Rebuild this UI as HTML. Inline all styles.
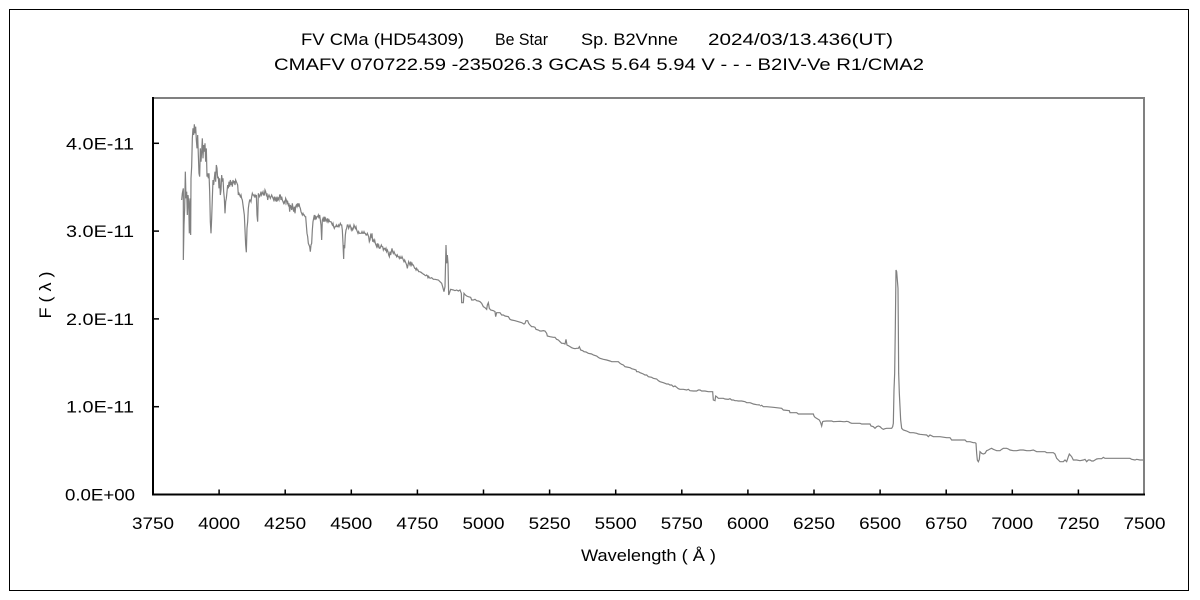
<!DOCTYPE html>
<html>
<head>
<meta charset="utf-8">
<style>
html,body{margin:0;padding:0;background:#fff;}
svg{display:block;}
text{font-family:"Liberation Sans","Noto Sans CJK JP",sans-serif;fill:#000;}
</style>
</head>
<body>
<svg width="1200" height="600" viewBox="0 0 1200 600" xmlns="http://www.w3.org/2000/svg">
<rect x="0" y="0" width="1200" height="600" fill="#fff"/>
<!-- outer border -->
<rect x="9.5" y="9.5" width="1179" height="581" fill="none" stroke="#000" stroke-width="1"/>

<!-- titles -->
<g font-size="17">
<text x="301" y="45" textLength="163" lengthAdjust="spacingAndGlyphs">FV CMa (HD54309)</text>
<text x="495" y="45" textLength="53" lengthAdjust="spacingAndGlyphs">Be Star</text>
<text x="581" y="45" textLength="97" lengthAdjust="spacingAndGlyphs">Sp. B2Vnne</text>
<text x="708" y="45" textLength="185" lengthAdjust="spacingAndGlyphs">2024/03/13.436(UT)</text>
<text x="274" y="70" textLength="650" lengthAdjust="spacingAndGlyphs">CMAFV 070722.59 -235026.3 GCAS 5.64 5.94 V - - - B2IV-Ve R1/CMA2</text>
</g>

<!-- plot frame -->
<line x1="153" y1="98" x2="1144" y2="98" stroke="#808080" stroke-width="2"/>
<line x1="1144" y1="97" x2="1144" y2="495" stroke="#808080" stroke-width="2"/>
<line x1="153" y1="97" x2="153" y2="495.5" stroke="#000" stroke-width="2"/>
<line x1="152" y1="494.5" x2="1145" y2="494.5" stroke="#000" stroke-width="2"/>

<!-- y ticks -->
<g stroke="#000" stroke-width="1.5">
<line x1="153" y1="406.7" x2="159" y2="406.7"/>
<line x1="153" y1="318.9" x2="159" y2="318.9"/>
<line x1="153" y1="231.1" x2="159" y2="231.1"/>
<line x1="153" y1="143.3" x2="159" y2="143.3"/>
</g>
<!-- x ticks -->
<g stroke="#000" stroke-width="1.5">
<line x1="219.1" y1="494" x2="219.1" y2="489.5"/>
<line x1="285.2" y1="494" x2="285.2" y2="489.5"/>
<line x1="351.3" y1="494" x2="351.3" y2="489.5"/>
<line x1="417.4" y1="494" x2="417.4" y2="489.5"/>
<line x1="483.5" y1="494" x2="483.5" y2="489.5"/>
<line x1="549.6" y1="494" x2="549.6" y2="489.5"/>
<line x1="615.7" y1="494" x2="615.7" y2="489.5"/>
<line x1="681.8" y1="494" x2="681.8" y2="489.5"/>
<line x1="747.9" y1="494" x2="747.9" y2="489.5"/>
<line x1="814" y1="494" x2="814" y2="489.5"/>
<line x1="880.1" y1="494" x2="880.1" y2="489.5"/>
<line x1="946.2" y1="494" x2="946.2" y2="489.5"/>
<line x1="1012.3" y1="494" x2="1012.3" y2="489.5"/>
<line x1="1078.4" y1="494" x2="1078.4" y2="489.5"/>
</g>

<!-- y labels -->
<g font-size="17" text-anchor="end">
<text x="135" y="500.5" textLength="70" lengthAdjust="spacingAndGlyphs">0.0E+00</text>
<text x="134" y="412.7" textLength="68" lengthAdjust="spacingAndGlyphs">1.0E-11</text>
<text x="134" y="324.9" textLength="68" lengthAdjust="spacingAndGlyphs">2.0E-11</text>
<text x="134" y="237.1" textLength="68" lengthAdjust="spacingAndGlyphs">3.0E-11</text>
<text x="134" y="149.3" textLength="68" lengthAdjust="spacingAndGlyphs">4.0E-11</text>
</g>

<!-- x labels -->
<g font-size="17" text-anchor="middle">
<text x="153" y="529" textLength="42" lengthAdjust="spacingAndGlyphs">3750</text>
<text x="219.1" y="529" textLength="42" lengthAdjust="spacingAndGlyphs">4000</text>
<text x="285.2" y="529" textLength="42" lengthAdjust="spacingAndGlyphs">4250</text>
<text x="351.3" y="529" textLength="42" lengthAdjust="spacingAndGlyphs">4500</text>
<text x="417.4" y="529" textLength="42" lengthAdjust="spacingAndGlyphs">4750</text>
<text x="483.5" y="529" textLength="42" lengthAdjust="spacingAndGlyphs">5000</text>
<text x="549.6" y="529" textLength="42" lengthAdjust="spacingAndGlyphs">5250</text>
<text x="615.7" y="529" textLength="42" lengthAdjust="spacingAndGlyphs">5500</text>
<text x="681.8" y="529" textLength="42" lengthAdjust="spacingAndGlyphs">5750</text>
<text x="747.9" y="529" textLength="42" lengthAdjust="spacingAndGlyphs">6000</text>
<text x="814" y="529" textLength="42" lengthAdjust="spacingAndGlyphs">6250</text>
<text x="880.1" y="529" textLength="42" lengthAdjust="spacingAndGlyphs">6500</text>
<text x="946.2" y="529" textLength="42" lengthAdjust="spacingAndGlyphs">6750</text>
<text x="1012.3" y="529" textLength="42" lengthAdjust="spacingAndGlyphs">7000</text>
<text x="1078.4" y="529" textLength="42" lengthAdjust="spacingAndGlyphs">7250</text>
<text x="1144.5" y="529" textLength="42" lengthAdjust="spacingAndGlyphs">7500</text>
</g>

<!-- axis titles -->
<text x="581" y="561" font-size="17" textLength="135" lengthAdjust="spacingAndGlyphs">Wavelength ( Å )</text>
<text transform="translate(51,295) rotate(-90)" x="0" y="0" font-size="17" text-anchor="middle" textLength="47" lengthAdjust="spacingAndGlyphs">F ( λ )</text>

<!-- spectrum -->
<g fill="none" stroke="#808080" stroke-width="1.2" stroke-linejoin="miter">
<polyline vector-effect="non-scaling-stroke" transform="translate(170,115) scale(0.33333)" points="35,255 37,235 40,220 40,435 42,330 44,280 46,170 48,250 50,230 52,300 54,240 56,260 58,355 60,250 62,360 63,190 65,155 67,70 69,40 71,60 73,28 75,55 77,35 79,75 81,100 83,60 85,120 87,175 89,185 91,100 93,140 95,110 97,70 99,130 101,90 103,110 105,85 107,140 109,100 111,185 113,175 115,190 117,175 119,230 121,320 123,355 125,310 127,250 129,195 131,210 133,190 135,170 137,200 139,150 141,160 143,190 145,185 147,220 149,190 151,240 153,225 155,180 157,200 159,190 161,230 163,250 165,295 167,260 169,250 171,230 173,210 175,220 177,200 179,215 181,195 183,210 185,200 187,215 189,195 191,205 193,198 195,210 197,195 199,200 201,205 203,210 205,240 207,235 209,240 211,245 213,240 215,250 217,255 219,270 221,285 223,300 225,345 227,390 229,412 231,340 233,320 235,280 237,265 239,255 241,255 243,260 245,245 247,235 249,240 251,240 253,245 255,240 257,245 259,240 261,300 263,320 265,235 267,240 269,245 271,240 273,230 275,240 277,235 279,230 281,240 283,240 285,225 287,230 289,240 291,235 293,255 295,245 297,240 299,245 301,250 303,245 305,240 307,245 309,250 311,255 313,245 315,255 317,250 319,260 321,245 323,255 325,250 327,255 329,240 331,240 333,255 335,245 337,255 339,260 341,265 343,260 345,265 347,250 349,255 351,265 353,260 355,270 357,265 359,290 361,270 363,275 365,285 367,265 369,280 371,290 373,275 375,295 377,275 379,270 381,275 383,265 385,275 387,265 389,275 391,280 393,290 395,295 397,300 399,295 401,300 403,300 405,305 407,305 409,330 411,355 413,365 415,385 417,390 419,395 421,410 423,390 425,385 427,345 429,320 431,310 433,300 435,315 437,305 439,310 441,305 443,305 445,300 447,310 449,300 451,315 453,330 455,375 457,315 459,310 461,320 463,305 465,320 467,310 469,315 471,320 473,310 475,320 477,315 479,320 481,320 483,320 485,325 487,330 489,325 491,335 493,340 495,335 497,335 499,330 501,335 503,335 505,330 507,335 509,330 511,325 513,330 515,330 517,345 519,385 521,432 522,390 524,400 526,360 528,345 530,340 532,330 534,330 536,340 538,335 540,330 542,335 544,345 546,340 548,345 550,340 552,330 554,335 556,340 558,335 560,345 562,350 564,355 566,350 568,355 570,355 572,355 574,355 576,350 578,355 580,355 582,350 584,355 586,355 588,360 590,360 592,355 594,360 596,365 598,380 600,375 602,360 604,365 606,355 608,380 610,375 612,380 614,375 616,385 618,390 620,395 622,385 624,395 626,390 628,400 630,400 632,395 634,390 636,395 638,395 640,405 642,400 644,400 646,405 648,400 650,410 652,405 654,410 656,420 658,425 660,410 662,420 664,410 666,400 668,410 670,415 672,410 674,415 676,420 678,420 680,425 682,420 684,425 686,425 688,430 690,425 692,430 694,430 696,425 698,430 700,435 702,440 704,435 706,440 708,445 710,450 712,460 714,450 716,440 718,445 720,450 722,440 724,450 726,445 728,450 730,450 732,455 734,460 736,460 738,465 740,460 742,465 744,465 746,470 748,470 750,470 752,472 754,472 756,475 758,475 760,478 762,478 764,480 766,482 768,482 770,480 772,482 774,488 776,484 778,488 780,490"/>
<polyline vector-effect="non-scaling-stroke" transform="translate(430,230) scale(0.33333)" points="0,145 5,143 10,148 15,148 25,150 30,155 35,160 38,170 42,185 45,170 48,45 50,100 52,75 54,100 56,195 58,190 62,178 70,180 75,182 80,180 85,183 90,180 94,190 95,218 100,218 102,190 106,195 110,198 115,200 122,202 125,210 130,210 135,208 140,212 145,213 150,215 155,220 160,230 165,233 170,238 172,225 175,218 178,235 182,240 190,242 195,245 197,260 200,248 210,248 215,255 220,255 225,258 235,260 240,268 245,270 255,272 265,275 275,278 282,282 285,280 288,272 293,272 296,280 300,285 305,290 310,290 315,292 318,298 325,300 330,303 335,303 340,302 345,303 350,310 352,318 360,320 370,322 375,322 380,328 385,330 390,335 395,340 400,340 405,342 408,328 411,345 415,347 420,350 425,353 430,355 435,356 440,355 445,355 448,350 452,360 458,362 462,365 468,366 475,370 485,372 490,375 500,378 505,382 510,385 520,388 530,390 540,393 545,395 560,395 565,395 570,400 575,403 580,405 585,410 590,411 600,413 605,416 612,418 618,420 620,425 625,425 630,428 635,430 640,432 645,435 650,435 655,440 665,442 670,445 680,447 685,452 690,455 700,458 705,460 710,462 715,462 720,465 725,465 730,470 735,468 740,472 745,476 750,478 760,478 770,480 775,478 780,482 790,483 800,483 805,480 810,480 815,483 825,483 835,485 848,485 850,510 855,512 857,498 860,500 865,505 870,505 880,505 885,507 895,508 900,506 905,510 910,510 915,512 920,512 925,513 935,513 945,515 950,518 960,518 965,520 970,522 980,524 990,525"/>
<polyline vector-effect="non-scaling-stroke" transform="translate(760,260) scale(0.33333)" points="0,438 5,436 10,440 20,440 40,442 65,445 70,450 88,452 90,458 110,458 115,462 125,462 130,462 160,462 162,468 165,472 170,475 178,480 182,488 185,498 188,485 190,484 200,483 215,483 220,485 240,484 250,485 255,485 260,484 265,485 270,488 275,490 300,490 305,492 330,492 333,498 340,500 345,505 350,500 355,498 360,500 365,505 370,508 375,506 380,505 390,505 395,505 398,500 400,490 402,390 404,340 406,200 408,30 410,35 412,60 414,85 415,200 416,340 418,400 420,440 422,480 425,505 430,510 440,513 450,518 460,518 470,520 475,522 480,523 490,524 500,525 505,530 510,525 520,530 540,530 560,533 570,533 575,540 600,540 615,540 620,545 630,545 640,548 645,548 648,550 650,580 652,600 655,605 658,598 660,575 665,580 670,582 675,580 680,572 685,570 690,567 695,565 700,568 705,570 710,572 720,572 725,568 730,565 740,565 745,567 750,570 760,572 770,572 780,570 790,570 800,572 810,572 820,570 830,575 855,575 860,578 880,578 885,582 890,595 895,600 900,605 910,605 915,600 920,605 925,590 928,582 935,590 940,600 950,600 960,602 970,600 975,598 980,605 985,600 990,600 995,603 1000,603 1005,600 1010,597 1015,596 1025,596 1030,592 1035,595 1060,595 1080,595 1100,595 1110,595 1115,598 1125,600 1130,598 1140,600 1150,600"/>
</g>
</svg>
</body>
</html>
